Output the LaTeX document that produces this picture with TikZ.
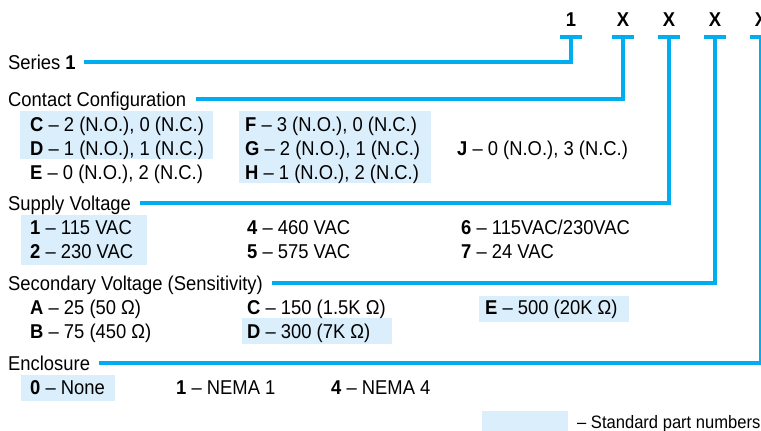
\documentclass[tikz,border=0pt]{standalone}
\usepackage{fontspec}
\setmainfont[FakeStretch=0.92]{Liberation Sans}
\definecolor{partblue}{RGB}{0,174,239}
\definecolor{stdfill}{RGB}{218,238,251}
\tikzset{
  opt/.style={anchor=base west, inner sep=0pt},
  grp/.style={anchor=base west, inner sep=0pt, text height=14.5pt, text depth=0pt},
  digit/.style={anchor=base, inner sep=0pt, font=\fontsize{20}{24}\selectfont\bfseries},
  partline/.style={draw=partblue, line width=4pt},
  std/.style={fill=stdfill}
}
\begin{document}
\begin{tikzpicture}[x=1pt, y=-1pt, font=\fontsize{20}{24}\selectfont]
\useasboundingbox (0,0) rectangle (761,431);
% standard part numbers
\fill[std] (20,111) rectangle (213,159);
\fill[std] (239,111) rectangle (431,183);
\fill[std] (21,215) rectangle (147,265);
\fill[std] (242,318) rectangle (392,344);
\fill[std] (479,296) rectangle (629,322);
\fill[std] (21,375) rectangle (115,401);
\fill[std] (482,411) rectangle (568,433);
% part number
\node[digit] (d1) at (571,26) {1};
\node[digit] (d2) at (623,26) {X};
\node[digit] (d3) at (669,26) {X};
\node[digit] (d4) at (715,26) {X};
\node[digit] (d5) at (761,26) {X};
\foreach \n/\x in {1/571,2/623,3/669,4/715,5/761} {
  \coordinate (t\n) at (\x,37);
  \draw[partline] ([xshift=-11pt]t\n) -- ([xshift=11pt]t\n);
}
% series
\node[grp] (ser) at (8,69) {Series \textbf{1}};
\draw[partline] ([xshift=8pt]ser.east) -| (t1);
% contact configuration
\node[grp] (cc) at (8,106) {Contact Configuration};
\draw[partline] ([xshift=10pt]cc.east) -| (t2);
\node[opt] (ccC) at (30,131) {\textbf{C} -- 2 (N.O.), 0 (N.C.)};
\node[opt] (ccD) at (30,155) {\textbf{D} -- 1 (N.O.), 1 (N.C.)};
\node[opt] (ccE) at (30,179) {\textbf{E} -- 0 (N.O.), 2 (N.C.)};
\node[opt] (ccF) at (245,131) {\textbf{F} -- 3 (N.O.), 0 (N.C.)};
\node[opt] (ccG) at (245,155) {\textbf{G} -- 2 (N.O.), 1 (N.C.)};
\node[opt] (ccH) at (245,179) {\textbf{H} -- 1 (N.O.), 2 (N.C.)};
\node[opt] (ccJ) at (457,155) {\textbf{J} -- 0 (N.O.), 3 (N.C.)};
% supply voltage
\node[grp] (sv) at (8,210) {Supply Voltage};
\draw[partline] ([xshift=9pt]sv.east) -| (t3);
\node[opt] (sv1) at (30,234) {\textbf{1} -- 115 VAC};
\node[opt] (sv2) at (30,258) {\textbf{2} -- 230 VAC};
\node[opt] (sv4) at (247,234) {\textbf{4} -- 460 VAC};
\node[opt] (sv5) at (247,258) {\textbf{5} -- 575 VAC};
\node[opt] (sv6) at (461,234) {\textbf{6} -- 115VAC/230VAC};
\node[opt] (sv7) at (461,258) {\textbf{7} -- 24 VAC};
% secondary voltage
\node[grp] (sec) at (8,290) {Secondary Voltage (Sensitivity)};
\draw[partline] ([xshift=9pt]sec.east) -| (t4);
\node[opt] (secA) at (30,314) {\textbf{A} -- 25 (50 Ω)};
\node[opt] (secB) at (30,338) {\textbf{B} -- 75 (450 Ω)};
\node[opt] (secC) at (247,314) {\textbf{C} -- 150 (1.5K Ω)};
\node[opt] (secD) at (247,338) {\textbf{D} -- 300 (7K Ω)};
\node[opt] (secE) at (485,314) {\textbf{E} -- 500 (20K Ω)};
% enclosure
\node[grp] (enc) at (8,370) {Enclosure};
\draw[partline] ([xshift=9pt]enc.east) -| (t5);
\node[opt] (enc0) at (30,394) {\textbf{0} -- None};
\node[opt] (enc1) at (176,394) {\textbf{1} -- NEMA 1};
\node[opt] (enc4) at (331,394) {\textbf{4} -- NEMA 4};
% legend
\node[opt, font=\fontsize{18}{22}\selectfont] (std) at (577,428) {-- Standard part numbers};
\end{tikzpicture}
\end{document}
